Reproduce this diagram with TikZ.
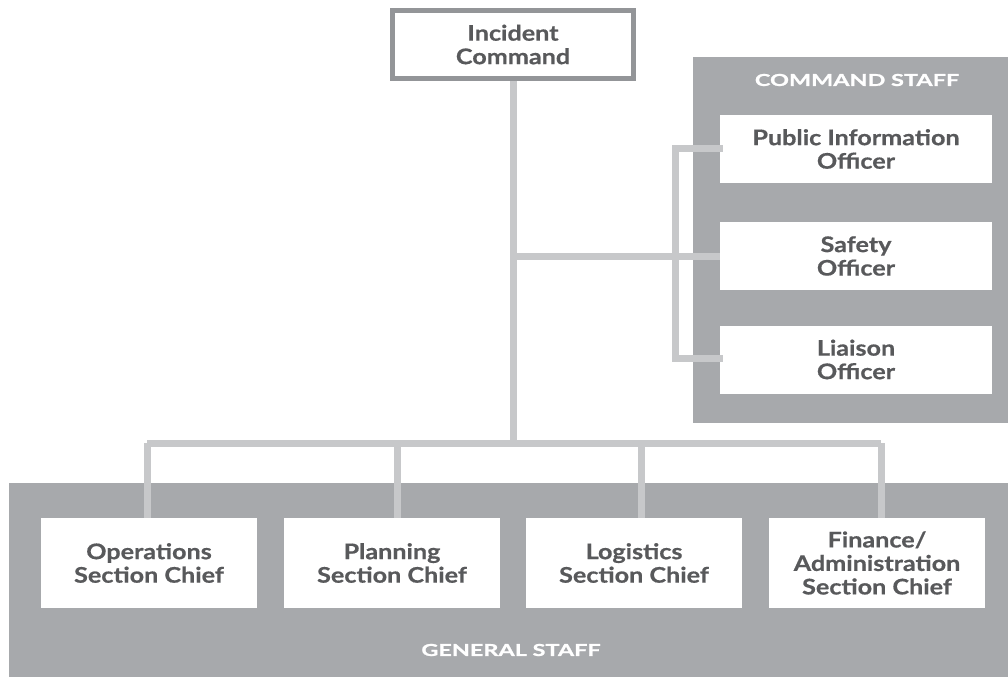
\documentclass[tikz,border=0pt]{standalone}
\usepackage{fontspec}
\setmainfont{Lato}[FakeStretch=1.17, BoldFeatures={FakeBold=0.6}]
\newfontfamily\titlefont{Lato}[FakeStretch=1.42, BoldFeatures={FakeBold=1.2}]
\definecolor{panelgray}{HTML}{A7A9AC}
\definecolor{linegray}{HTML}{C7C8CA}
\definecolor{bordergray}{HTML}{939598}
\definecolor{textgray}{HTML}{58595B}
\begin{document}
\begin{tikzpicture}[x=1pt,y=-1pt,
  box/.style={fill=white, align=center, text=textgray, font=\fontsize{21.5}{23.5}\selectfont\bfseries, inner sep=0pt},
  staffbox/.style={box, minimum width=272pt, minimum height=68pt},
  genbox/.style={box, minimum width=216pt, minimum height=90pt},
  conn/.style={draw=linegray, line width=7pt},
  paneltitle/.style={text=white, font=\titlefont\fontsize{16.5}{20}\selectfont\bfseries}
]
\useasboundingbox (0,0) rectangle (1008,677);
% panels
\fill[panelgray] (693,57) rectangle (1008,423);
\fill[panelgray] (9,483) rectangle (1008,677);
\node[paneltitle] (cmdtitle) at (857,80) {COMMAND STAFF};
\node[paneltitle] (gentitle) at (511,650) {GENERAL STAFF};
% nodes
\node[box, draw=bordergray, line width=5pt, minimum width=241pt, minimum height=68pt] (ic) at (513,44.5) {Incident\\Command};
\node[staffbox] (pio) at (856,149) {Public Information\\Officer};
\node[staffbox] (safety) at (856,256) {Safety\\Officer};
\node[staffbox] (liaison) at (856,359.5) {Liaison\\Officer};
\node[genbox] (ops) at (149,563) {Operations\\Section Chief};
\node[genbox] (plan) at (392,563) {Planning\\Section Chief};
\node[genbox] (log) at (634,563) {Logistics\\Section Chief};
\node[genbox] (fin) at (877,563) {Finance/\\Administration\\Section Chief};
% coordinates
\coordinate (bus) at (513,443);
\coordinate (brTop) at (675,148);
\coordinate (brBot) at (675,358);
\coordinate (opsT) at ([xshift=-2pt]ops.north);
\coordinate (planT) at ([xshift=5pt]plan.north);
\coordinate (logT) at ([xshift=7pt]log.north);
\coordinate (finT) at ([xshift=4pt]fin.north);
% connectors
\draw[conn] (ic.south) -- (bus);
\draw[conn] (opsT |- bus) -- (finT |- bus);
\draw[conn] (opsT) -- (opsT |- bus);
\draw[conn] (planT) -- (planT |- bus);
\draw[conn] (logT) -- (logT |- bus);
\draw[conn] (finT) -- (finT |- bus);
\draw[conn] (bus |- safety.west) -- (safety.west);
\draw[conn, line cap=rect] (pio.west |- brTop) -- (brTop) -- (brBot) -- (liaison.west |- brBot);
\end{tikzpicture}
\end{document}
